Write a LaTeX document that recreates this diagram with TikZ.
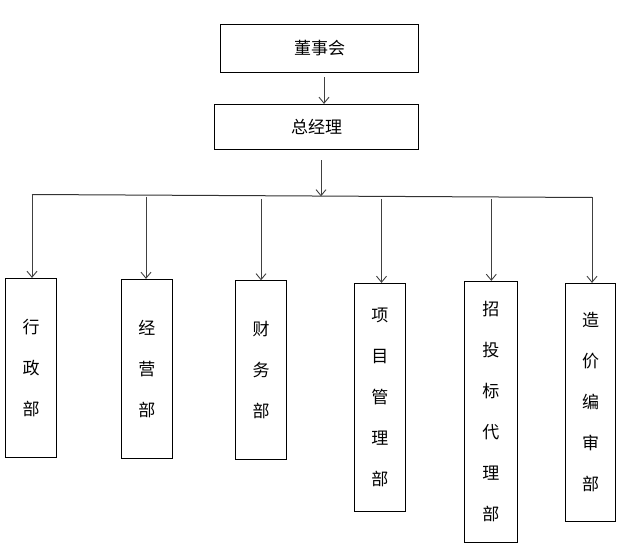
\documentclass[tikz,border=0pt]{standalone}
\usepackage{fontspec}
\newfontfamily\cjk{Noto Sans CJK SC}
\usetikzlibrary{arrows.meta}
\begin{document}
\begin{tikzpicture}[x=1pt,y=-1pt,
  box/.style={draw=black,line width=0.8pt,inner sep=0pt,align=center,anchor=center,
    font=\cjk\fontsize{17}{41}\selectfont},
  arr/.style={draw=black!75,line width=1pt,-{Straight Barb[length=6pt,width=10pt,line width=0.9pt]}},
  bus/.style={draw=black!80,line width=1pt}]
\useasboundingbox (0,0) rectangle (628,553);
% top boxes
\node[box,minimum width=198pt,minimum height=48pt] (dsh) at (319.7,48.3) {董事会};
\node[box,minimum width=204pt,minimum height=45pt] (zjl) at (316.5,126.8) {总经理};
% departments
\node[box,minimum width=51pt,minimum height=179pt] (xz) at (31,367.8) {行\\政\\部};
\node[box,minimum width=51pt,minimum height=179pt] (jy) at (146.8,368.8) {经\\营\\部};
\node[box,minimum width=51pt,minimum height=178.6pt] (cw) at (261,370) {财\\务\\部};
\node[box,minimum width=51pt,minimum height=228pt] (xm) at (379.8,397.3) {项\\目\\管\\理\\部};
\node[box,minimum width=53pt,minimum height=261pt] (zt) at (490.8,411.8) {招\\投\\标\\代\\理\\部};
\node[box,minimum width=49.6pt,minimum height=238pt] (zj) at (590.5,402.3) {造\\价\\编\\审\\部};
% bus coordinates
\coordinate (b1) at (32,194.5);
\coordinate (b2) at (146,196.7);
\coordinate (b3) at (261,199);
\coordinate (bm) at (321,196.3);
\coordinate (b4) at (381.5,199);
\coordinate (b5) at (491.3,199);
\coordinate (b6) at (592,197.5);
% connectors
\draw[arr] ([xshift=4.3pt,yshift=-4.4pt]dsh.south) -- ([xshift=7.5pt]zjl.north);
\draw[arr] ([xshift=4.5pt,yshift=-10.7pt]zjl.south) -- (bm);
\draw[bus] (b1) -- (b6);
\draw[arr] (b1) -- (b1 |- xz.north);
\draw[arr] (b2) -- (b2 |- jy.north);
\draw[arr] (b3) -- (b3 |- cw.north);
\draw[arr] (b4) -- (b4 |- xm.north);
\draw[arr] (b5) -- (b5 |- zt.north);
\draw[arr] (b6) -- (b6 |- zj.north);
\end{tikzpicture}
\end{document}
